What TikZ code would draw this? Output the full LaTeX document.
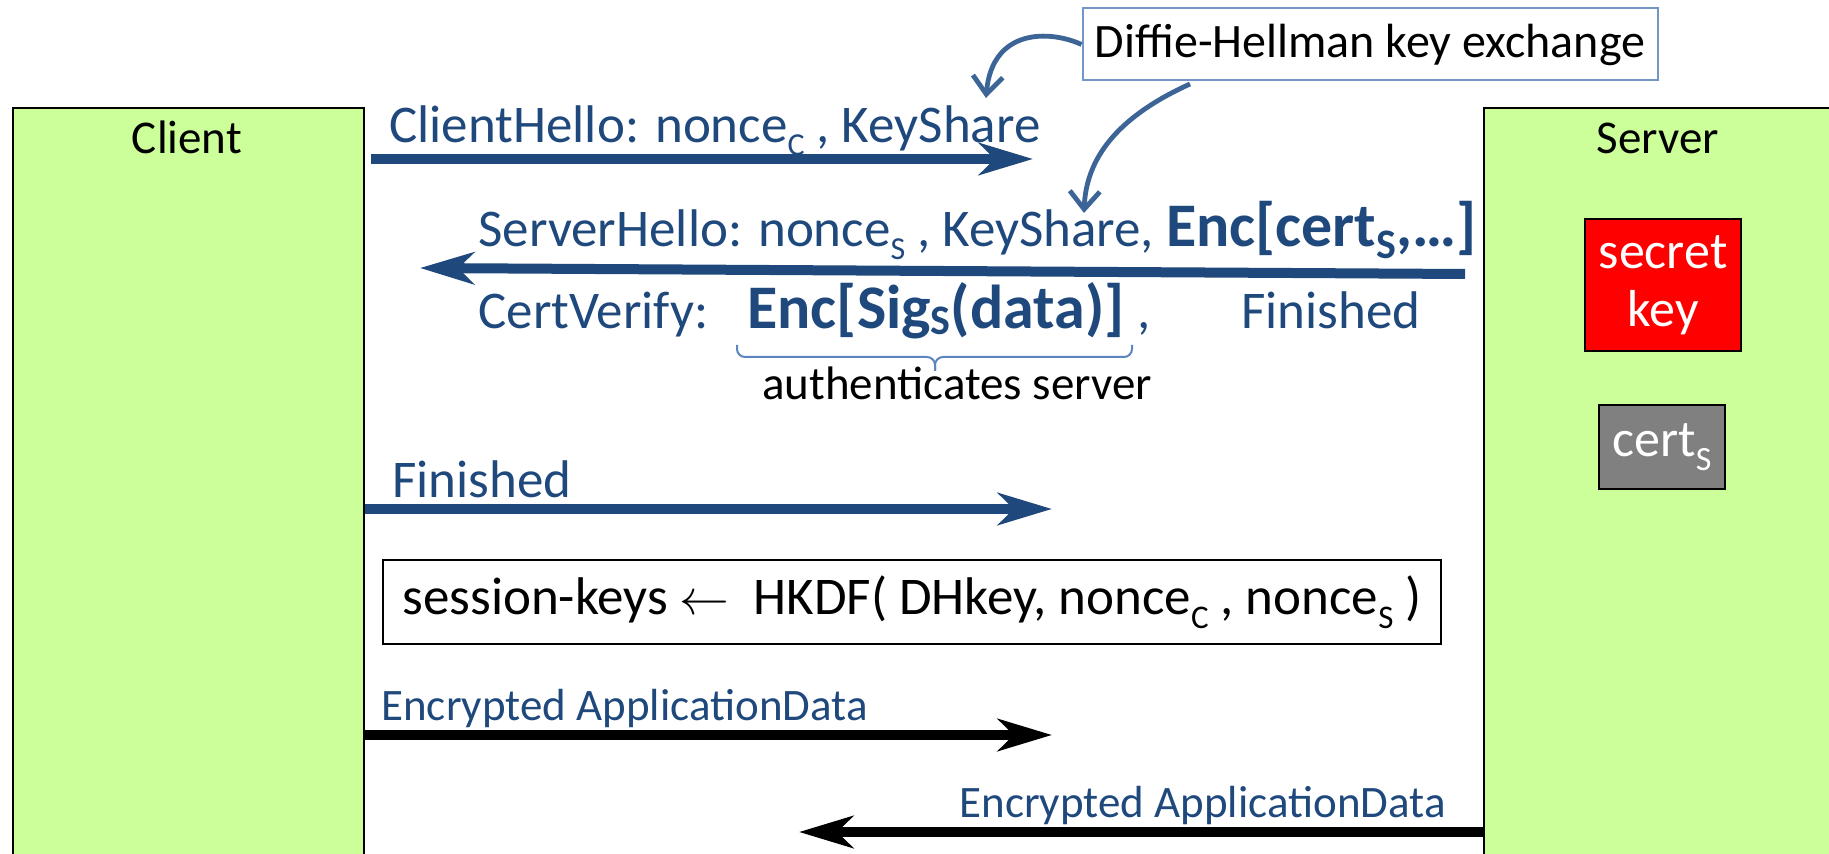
\documentclass[tikz,border=0pt]{standalone}
\usepackage{fontspec}
\setmainfont{Carlito}
\usetikzlibrary{arrows.meta}
\definecolor{msgblue}{HTML}{1F497D}
\definecolor{dhblue}{HTML}{3C6496}
\definecolor{boxblue}{HTML}{7396C8}
\definecolor{bracecol}{HTML}{5B86C0}
\definecolor{partygreen}{HTML}{CCFF99}
\definecolor{certgray}{HTML}{808080}
% lowered subscript: size, drop, text
\newcommand{\lowsub}[3]{\raisebox{-#2}{\fontsize{#1}{#1}\selectfont #3}}
\tikzset{
  party/.style={draw=black, line width=1pt, fill=partygreen, anchor=north west, inner sep=0pt},
  partylabel/.style={font=\fontsize{23.5}{28}\selectfont, text=black, anchor=base, inner sep=0pt},
  msgtext/.style={text=msgblue, font=\fontsize{26.5}{32}\selectfont, inner sep=0pt, anchor=base west},
  smalltext/.style={text=msgblue, font=\fontsize{22.5}{27}\selectfont, inner sep=0pt, anchor=base west},
  msgarrow/.style={draw=msgblue, line width=5pt, -{Stealth[length=27pt,width=16pt,inset=8pt]}},
  dataarrow/.style={draw=black, line width=5pt, -{Stealth[length=27pt,width=16pt,inset=8pt]}},
  dharrow/.style={draw=dhblue, line width=2.4pt, -{Straight Barb[length=9pt,width=15pt,line width=2.4pt]}},
  keybox/.style={draw=black, line width=1pt, text=white, align=center, inner sep=0pt},
}
\begin{document}
\begin{tikzpicture}[x=0.5pt,y=-0.5pt]
\useasboundingbox (0,0) rectangle (1829,854);
\fill[white] (0,0) rectangle (1829,854);
\begin{scope}
  \clip (0,0) rectangle (1829,854);
  \node[party, minimum width=175.5pt, minimum height=420pt] (client) at (12,107) {};
  \node[party, minimum width=200pt, minimum height=420pt] (server) at (1483,107) {};
\end{scope}
\node[partylabel] (clientlbl) at (187,154) {Client};
\node[partylabel] (serverlbl) at (1658,154) {Server};

\node[keybox, fill=red, minimum width=78pt, minimum height=66pt, font=\fontsize{26}{29}\selectfont] (sk) at (1663,285) {secret\\key};
\node[keybox, fill=certgray, minimum width=63pt, minimum height=42pt, font=\fontsize{26}{30}\selectfont] (cert) at (1662,447) {cert\lowsub{17}{7pt}{S}};

% Diffie-Hellman box
\node[draw=boxblue, line width=1pt, minimum width=287.5pt, minimum height=36pt, inner sep=0pt, font=\fontsize{24}{29}\selectfont] (dh) at (1370,44.5) {Diffie-Hellman key exchange};

% messages
\node[msgtext] (chtext) at (389,143) {ClientHello: nonce\lowsub{16}{6.5pt}{C} , KeyShare};
\coordinate (chstart) at (371,159);
\coordinate (chend) at (1033,159);
\draw[msgarrow] (chstart) -- (chend);

\node[msgtext] (shtext) at (478,247) {ServerHello: nonce\lowsub{16}{6.5pt}{S} , KeyShare, {\fontsize{31}{35}\selectfont\bfseries Enc[cert\lowsub{21}{6pt}{S},…]}};
\coordinate (shstart) at (1465,274);
\coordinate (shend) at (420,268);
\draw[msgarrow] (shstart) -- (shend);

\node[msgtext] (cvtext) at (478,329) {CertVerify:};
\node[msgtext, font=\fontsize{31}{35}\selectfont\bfseries] (sigtext) at (747,329) {Enc[Sig\lowsub{21}{3pt}{S}(data)]};
\node[msgtext] (cvcomma) at (1137,329) {,};
\node[msgtext] (fin1) at (1241,329) {Finished};

% brace under the signature
\coordinate (brl) at (737,345);
\coordinate (brr) at (1132,345);
\coordinate (brtip) at (935,371);
\draw[bracecol, line width=1pt, rounded corners=4pt] (brl) -- (737,357) -- (935,357) -- (brtip);
\draw[bracecol, line width=1pt, rounded corners=4pt] (brr) -- (1132,357) -- (935,357) -- (brtip);
\node[font=\fontsize{23.5}{28}\selectfont, anchor=base, inner sep=0pt] (auth) at (957,400) {authenticates server};

\node[msgtext] (fin2) at (392,498) {Finished};
\coordinate (finend) at (1052,509);
\draw[msgarrow] (client.east |- finend) -- (finend);

\node[draw=black, line width=1pt, minimum width=529pt, minimum height=42pt, inner sep=0pt, font=\fontsize{26.5}{31}\selectfont] (hkdf) at (912,602) {session-keys $\leftarrow$\ \ HKDF( DHkey, nonce\lowsub{16.5}{7pt}{C} , nonce\lowsub{16.5}{7pt}{S} )};

\node[smalltext] (ead1) at (381,720) {Encrypted ApplicationData};
\coordinate (e1end) at (1052,735);
\draw[dataarrow] (client.east |- e1end) -- (e1end);

\node[smalltext] (ead2) at (959,817) {Encrypted ApplicationData};
\coordinate (e2end) at (799,832);
\draw[dataarrow] (server.west |- e2end) -- (e2end);

% DH pointers
\coordinate (ks1) at (986,98);
\coordinate (dhs) at (1190,84);
\coordinate (ks2) at (1084,213);
\draw[dharrow] (dh.west) .. controls (1050,30) and (992,28) .. (ks1);
\draw[dharrow] (dhs) .. controls (1115,118) and (1086,160) .. (ks2);
\end{tikzpicture}
\end{document}
